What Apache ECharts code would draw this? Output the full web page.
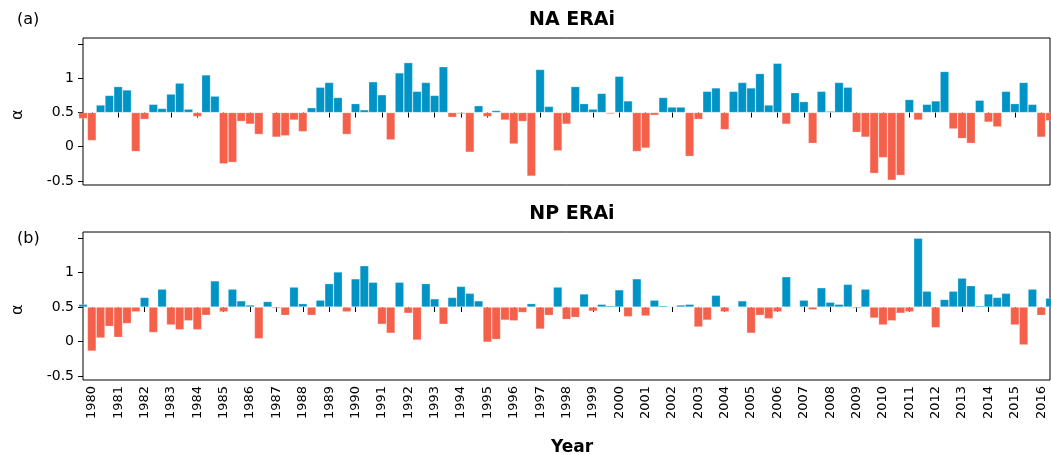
<!DOCTYPE html>
<html>
<head>
<meta charset="utf-8">
<script src="https://cdn.jsdelivr.net/npm/echarts@6/dist/echarts.min.js"></script>
<style>
html,body{margin:0;padding:0;background:#fff;}
#chart{width:1051px;height:455px;}
</style>
</head>
<body>
<div id="chart"></div>
<script>
// year tick labels (one tick every 3 bars, first bar is the end of 1979)
var years = [];
for (var y = 1980; y <= 2016; y++) years.push(String(y));

// alpha values, panel (a) NA ERAi
var naVals = [0.41,0.09,0.61,0.75,0.88,0.83,-0.07,0.40,0.62,0.56,0.77,0.93,0.55,0.44,1.05,0.74,
  -0.25,-0.23,0.37,0.33,0.18,0.49,0.14,0.16,0.39,0.22,0.57,0.87,0.94,0.72,0.18,0.63,0.54,0.95,0.76,0.10,
  1.08,1.23,0.81,0.94,0.75,1.17,0.43,0.48,-0.08,0.60,0.44,0.53,0.39,0.04,0.37,-0.43,1.13,0.59,-0.06,0.33,
  0.88,0.63,0.55,0.78,0.48,1.03,0.67,-0.07,-0.02,0.46,0.72,0.58,0.58,-0.14,0.40,0.81,0.86,0.25,
  0.81,0.94,0.86,1.07,0.61,1.22,0.33,0.79,0.66,0.05,0.81,0.52,0.94,0.87,0.21,0.14,-0.39,-0.16,-0.49,-0.42,
  0.69,0.39,0.62,0.67,1.10,0.26,0.12,0.05,0.68,0.36,0.29,0.81,0.63,0.94,0.62,0.14,0.38];

// alpha values, panel (b) NP ERAi
var npVals = [0.54,-0.14,0.05,0.22,0.06,0.26,0.43,0.64,0.13,0.76,0.24,0.17,0.30,0.17,0.38,0.88,
  0.43,0.76,0.59,0.53,0.04,0.58,0.48,0.38,0.79,0.55,0.38,0.60,0.84,1.01,0.43,0.91,1.10,0.86,0.25,0.12,
  0.86,0.41,0.02,0.84,0.62,0.25,0.64,0.80,0.70,0.59,-0.01,0.03,0.31,0.30,0.42,0.55,0.18,0.38,0.79,0.32,
  0.35,0.69,0.44,0.54,0.52,0.75,0.36,0.91,0.37,0.60,0.52,0.51,0.53,0.54,0.21,0.31,0.67,0.43,
  0.51,0.59,0.12,0.38,0.33,0.43,0.94,0.49,0.60,0.46,0.78,0.57,0.54,0.83,0.48,0.76,0.34,0.24,0.30,0.41,
  0.43,1.50,0.73,0.20,0.61,0.73,0.92,0.81,0.52,0.69,0.64,0.70,0.24,-0.05,0.76,0.38,0.63];

var baseline = 0.5;
var yTicks = [-0.5, 0, 0.5, 1, 1.5];
var BLUE = '#0094c6', RED = '#f5604b';

var categories = naVals.map(function(v, i){
  return years[Math.floor((i - 1) / 3)] || '1979';
});
function isTick(i){ return i % 3 === 1; }

function toBars(vals){
  return vals.map(function(v){
    return {value: v - baseline, itemStyle: {color: v >= baseline ? BLUE : RED}};
  });
}

var font = 'DejaVu Sans';
function xAxis(gi, showLabel){
  return {
    type: 'category', gridIndex: gi, data: categories, boundaryGap: false,
    axisLine: {show: false},
    axisTick: {show: true, interval: function(i){ return isTick(i); }, length: 5, lineStyle: {color: '#000'}},
    axisLabel: {show: showLabel, interval: function(i){ return isTick(i); }, rotate: 90,
      fontFamily: font, fontSize: 13, color: '#000', margin: 6},
    splitLine: {show: false}
  };
}
function yAxis(gi){
  return {
    type: 'value', gridIndex: gi, min: -1.06, max: 1.09,
    axisLine: {show: false},
    axisTick: {show: true, length: 5, lineStyle: {color: '#000'},
      customValues: yTicks.map(function(t){ return t - baseline; })},
    axisLabel: {fontFamily: font, fontSize: 14, color: '#000', margin: 9,
      customValues: yTicks.slice(0, 4).map(function(t){ return t - baseline; }),
      formatter: function(v){
        var t = Math.round((v + baseline) * 10) / 10;
        return t < 0 ? '-' + Math.abs(t) : String(t);
      }},
    splitLine: {show: false}
  };
}
function barSeries(gi, vals){
  return {
    type: 'bar', xAxisIndex: gi, yAxisIndex: gi, data: toBars(vals),
    barCategoryGap: '0%', clip: true,
    itemStyle: {borderColor: 'rgba(255,255,255,0.4)', borderWidth: 0.6}
  };
}

var chart = echarts.init(document.getElementById('chart'));
chart.setOption({
  animation: false,
  textStyle: {fontFamily: font},
  title: [
    {text: 'NA ERAi', left: 567, top: 6, textAlign: 'center', textStyle: {fontSize: 19, fontWeight: 'bold', color: '#000'}},
    {text: 'NP ERAi', left: 567, top: 200, textAlign: 'center', textStyle: {fontSize: 19, fontWeight: 'bold', color: '#000'}},
    {text: '(a)', left: 12, top: 7, textStyle: {fontSize: 16, fontWeight: 'normal', color: '#000'}},
    {text: '(b)', left: 12, top: 226, textStyle: {fontSize: 16, fontWeight: 'normal', color: '#000'}},
    {text: 'Year', left: 567, top: 434, textAlign: 'center', textStyle: {fontSize: 17, fontWeight: 'bold', color: '#000'}}
  ],
  graphic: [
    {type: 'text', x: 10, y: 120, rotation: Math.PI / 2, style: {text: 'α', font: '16px DejaVu Sans', fill: '#000'}},
    {type: 'text', x: 10, y: 315, rotation: Math.PI / 2, style: {text: 'α', font: '16px DejaVu Sans', fill: '#000'}}
  ],
  grid: [
    {left: 83, top: 38, width: 967, height: 147, show: true, borderColor: '#000', borderWidth: 1},
    {left: 83, top: 232, width: 967, height: 148, show: true, borderColor: '#000', borderWidth: 1}
  ],
  xAxis: [xAxis(0, false), xAxis(1, true)],
  yAxis: [yAxis(0), yAxis(1)],
  series: [barSeries(0, naVals), barSeries(1, npVals)]
});
</script>
</body>
</html>
